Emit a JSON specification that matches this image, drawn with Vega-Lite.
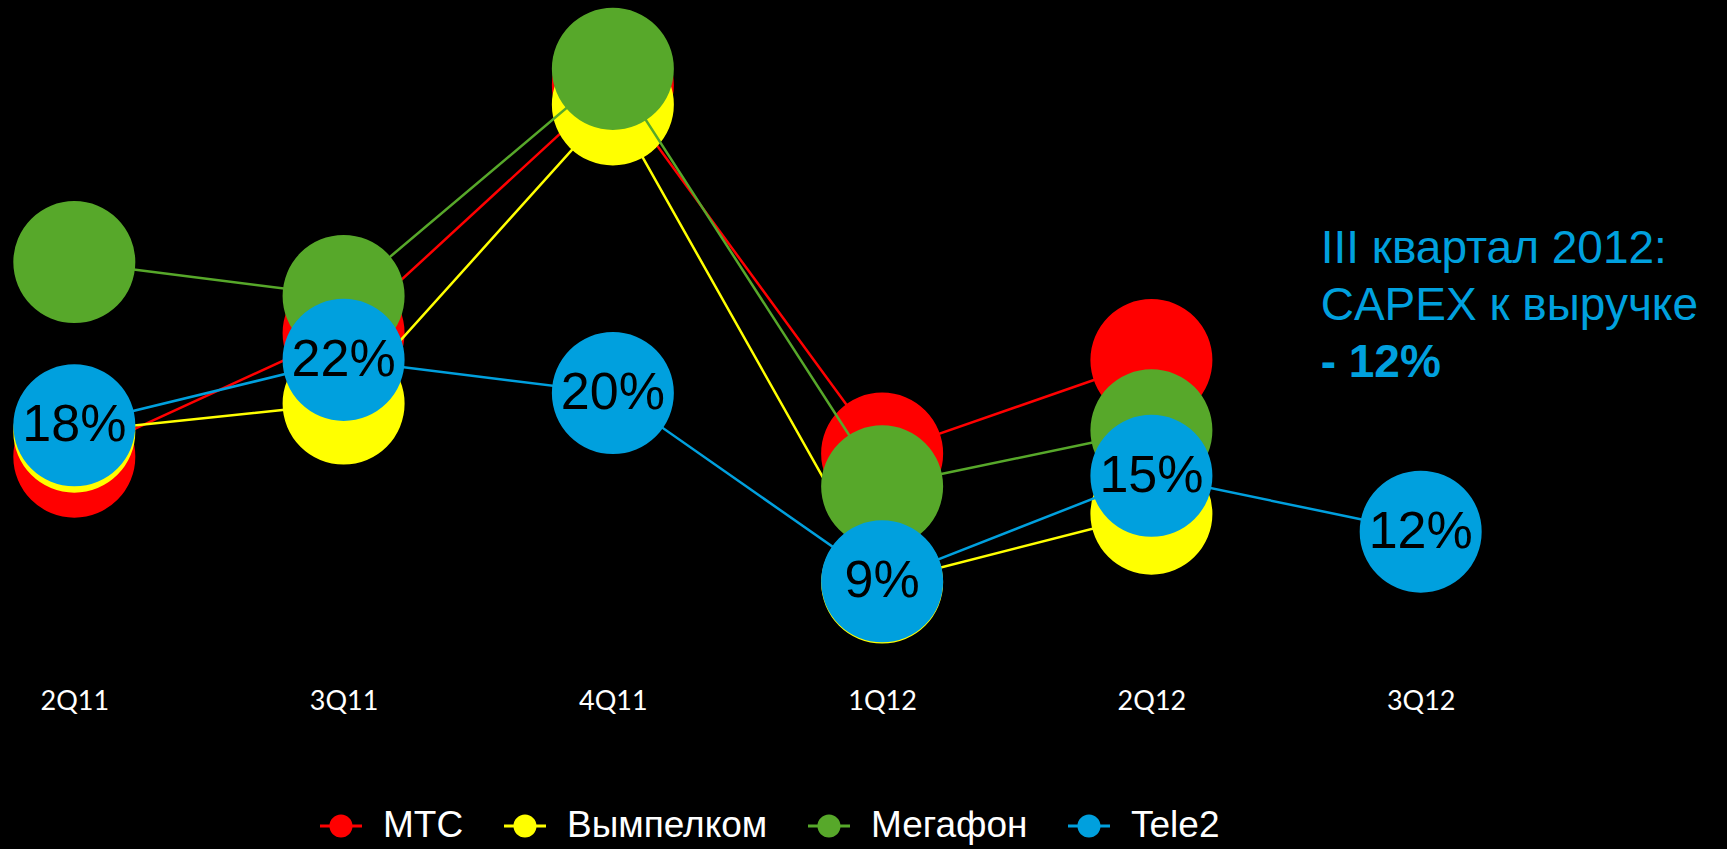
{
  "$schema": "https://vega.github.io/schema/vega-lite/v6.json",
  "width": 1495,
  "height": 680,
  "autosize": {"type": "none"},
  "padding": {"left": 0, "top": 0, "right": 232, "bottom": 169},
  "background": "#000000",
  "config": {"view": {"stroke": null}},
  "data": {
    "values": [
      {"q": "2Q11", "op": "МТС", "v": 0.1626},
      {"q": "3Q11", "op": "МТС", "v": 0.2348},
      {"q": "4Q11", "op": "МТС", "v": 0.3795},
      {"q": "1Q12", "op": "МТС", "v": 0.1644},
      {"q": "2Q12", "op": "МТС", "v": 0.2190},
      {"q": "2Q11", "op": "Вымпелком", "v": 0.1772},
      {"q": "3Q11", "op": "Вымпелком", "v": 0.1936},
      {"q": "4Q11", "op": "Вымпелком", "v": 0.3682},
      {"q": "1Q12", "op": "Вымпелком", "v": 0.0891},
      {"q": "2Q12", "op": "Вымпелком", "v": 0.1293},
      {"q": "2Q11", "op": "Мегафон", "v": 0.2762},
      {"q": "3Q11", "op": "Мегафон", "v": 0.2564},
      {"q": "4Q11", "op": "Мегафон", "v": 0.3890},
      {"q": "1Q12", "op": "Мегафон", "v": 0.1453},
      {"q": "2Q12", "op": "Мегафон", "v": 0.1780},
      {"q": "2Q11", "op": "Tele2", "v": 0.1809},
      {"q": "3Q11", "op": "Tele2", "v": 0.2191},
      {"q": "4Q11", "op": "Tele2", "v": 0.1997},
      {"q": "1Q12", "op": "Tele2", "v": 0.0898},
      {"q": "2Q12", "op": "Tele2", "v": 0.1514},
      {"q": "3Q12", "op": "Tele2", "v": 0.1188}
    ]
  },
  "encoding": {
    "x": {
      "field": "q",
      "type": "ordinal",
      "sort": ["2Q11", "3Q11", "4Q11", "1Q12", "2Q12", "3Q12"],
      "scale": {"type": "point", "padding": 0.276},
      "axis": {
        "title": null,
        "labelAngle": 0,
        "labelFont": "Lato",
        "labelFontSize": 27,
        "labelColor": "#FFFFFF",
        "labelBaseline": "alphabetic",
        "labelPadding": 29,
        "domain": false,
        "ticks": false,
        "tickSize": 0,
        "grid": false
      }
    },
    "color": {
      "field": "op",
      "type": "nominal",
      "scale": {
        "domain": ["МТС", "Вымпелком", "Мегафон", "Tele2"],
        "range": ["#FF0000", "#FFFF00", "#57A82A", "#00A0DE"]
      },
      "legend": {
        "title": null,
        "orient": "none",
        "legendX": 320,
        "legendY": 805,
        "direction": "horizontal",
        "columns": 4,
        "columnPadding": 40,
        "padding": 0,
        "symbolType": "M -1 -0.07 L 1 -0.07 L 1 0.07 L -1 0.07 Z M 0.55 0 A 0.55 0.55 0 1 1 -0.55 0 A 0.55 0.55 0 1 1 0.55 0 Z",
        "symbolSize": 1764,
        "symbolStrokeWidth": 0,
        "labelFont": "Liberation Sans",
        "labelFontSize": 37,
        "labelColor": "#FFFFFF",
        "labelOffset": 21,
        "labelLimit": 400,
        "encode": {
          "symbols": {
            "update": {
              "fill": {"scale": "color", "field": "value"},
              "fillOpacity": {"value": 1},
              "strokeWidth": {"value": 0}
            }
          }
        }
      }
    }
  },
  "layer": [
    {
      "transform": [{"filter": "datum.op === 'МТС'"}],
      "encoding": {"y": {"field": "v", "type": "quantitative", "scale": {"domain": [0.0322, 0.4292], "nice": false, "zero": false}, "axis": null}},
      "layer": [
        {"mark": {"type": "line", "strokeWidth": 2.5}},
        {"mark": {"type": "point", "shape": "circle", "filled": true, "opacity": 1, "size": 14884, "strokeWidth": 0}}
      ]
    },
    {
      "transform": [{"filter": "datum.op === 'Вымпелком'"}],
      "encoding": {"y": {"field": "v", "type": "quantitative", "scale": {"domain": [0.0322, 0.4292], "nice": false, "zero": false}, "axis": null}},
      "layer": [
        {"mark": {"type": "line", "strokeWidth": 2.5}},
        {"mark": {"type": "point", "shape": "circle", "filled": true, "opacity": 1, "size": 14884, "strokeWidth": 0}}
      ]
    },
    {
      "transform": [{"filter": "datum.op === 'Мегафон'"}],
      "encoding": {"y": {"field": "v", "type": "quantitative", "scale": {"domain": [0.0322, 0.4292], "nice": false, "zero": false}, "axis": null}},
      "layer": [
        {"mark": {"type": "line", "strokeWidth": 2.5}},
        {"mark": {"type": "point", "shape": "circle", "filled": true, "opacity": 1, "size": 14884, "strokeWidth": 0}}
      ]
    },
    {
      "transform": [{"filter": "datum.op === 'Tele2'"}],
      "encoding": {"y": {"field": "v", "type": "quantitative", "scale": {"domain": [0.0322, 0.4292], "nice": false, "zero": false}, "axis": null}},
      "layer": [
        {"mark": {"type": "line", "strokeWidth": 2.5}},
        {"mark": {"type": "point", "shape": "circle", "filled": true, "opacity": 1, "size": 14884, "strokeWidth": 0}},
        {
          "mark": {"type": "text", "font": "Liberation Sans", "fontSize": 52, "align": "center", "baseline": "middle"},
          "encoding": {
            "text": {"field": "v", "type": "quantitative", "format": ".0%"},
            "color": {"value": "#000000"}
          }
        }
      ]
    },
    {
      "data": {"values": [{"q": "3Q12", "t": ["III квартал 2012:", "CAPEX к выручке"]}]},
      "mark": {"type": "text", "font": "Liberation Sans", "fontSize": 46, "align": "left", "baseline": "alphabetic", "dx": -100, "lineHeight": 56.7},
      "encoding": {
        "y": {"datum": 0.2755, "type": "quantitative", "axis": null},
        "text": {"field": "t", "type": "nominal"},
        "color": {"value": "#00A0DE"}
      }
    },
    {
      "data": {"values": [{"q": "3Q12", "t": "- 12%"}]},
      "mark": {"type": "text", "font": "Liberation Sans", "fontSize": 46, "fontWeight": "bold", "align": "left", "baseline": "alphabetic", "dx": -100},
      "encoding": {
        "y": {"datum": 0.2093, "type": "quantitative", "axis": null},
        "text": {"field": "t", "type": "nominal"},
        "color": {"value": "#00A0DE"}
      }
    }
  ]
}
